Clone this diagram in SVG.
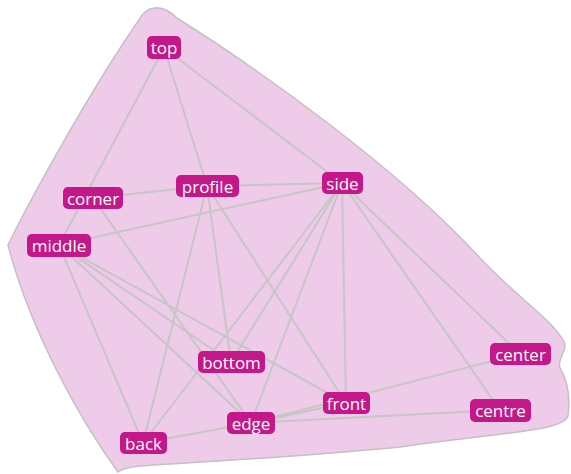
<svg xmlns="http://www.w3.org/2000/svg" width="571" height="474" viewBox="0 0 571 474">
<style>
.bg{fill:#eecbe8;stroke:#c4c0c4;stroke-width:1.5}
.e{stroke:#c6c6c6;stroke-width:2;fill:none}
.n rect{fill:#c4178a}
.n text{fill:#fff;font-family:"Open Sans","DejaVu Sans",sans-serif;font-size:17px;text-anchor:middle;dominant-baseline:central}
</style>
<rect width="571" height="474" fill="#fff"/>
<path class="bg" d="M143,14 Q158,0 177,18 C260,70 400,170 480,258 C520,300 550,318 563,340 C570,350 556,358 560,368 C566,378 571,392 568,416 C562,432 500,432 400,447 C300,457 200,462 140,466 Q122,468 118,472 C80,420 30,330 8,245 C30,200 90,90 143,14 Z"/>
<g id="connectors">
<line class="e" x1="164" y1="48" x2="59" y2="245"/>
<line class="e" x1="164" y1="48" x2="207" y2="186"/>
<line class="e" x1="164" y1="48" x2="342" y2="183"/>
<line class="e" x1="93" y1="198" x2="207" y2="186"/>
<line class="e" x1="93" y1="198" x2="251" y2="423"/>
<line class="e" x1="59" y1="245" x2="342" y2="183"/>
<line class="e" x1="59" y1="245" x2="143" y2="443"/>
<line class="e" x1="59" y1="245" x2="231" y2="362"/>
<line class="e" x1="59" y1="245" x2="251" y2="423"/>
<line class="e" x1="59" y1="245" x2="346" y2="403"/>
<line class="e" x1="207" y1="186" x2="342" y2="183"/>
<line class="e" x1="207" y1="186" x2="143" y2="443"/>
<line class="e" x1="207" y1="186" x2="231" y2="362"/>
<line class="e" x1="207" y1="186" x2="346" y2="403"/>
<line class="e" x1="342" y1="183" x2="231" y2="362"/>
<line class="e" x1="342" y1="183" x2="143" y2="443"/>
<line class="e" x1="342" y1="183" x2="251" y2="423"/>
<line class="e" x1="342" y1="183" x2="346" y2="403"/>
<line class="e" x1="342" y1="183" x2="520" y2="354"/>
<line class="e" x1="342" y1="183" x2="500" y2="410"/>
<line class="e" x1="143" y1="443" x2="251" y2="423"/>
<line class="e" x1="251" y1="423" x2="346" y2="403"/>
<line class="e" x1="251" y1="423" x2="520" y2="354"/>
<line class="e" x1="251" y1="423" x2="500" y2="410"/>
</g>
<g id="top" class="n"><rect x="147" y="36" width="34" height="23" rx="5"/><text x="164" y="47.5">top</text></g>
<g id="corner" class="n"><rect x="63" y="187" width="60" height="22" rx="5"/><text x="93" y="198">corner</text></g>
<g id="middle" class="n"><rect x="27" y="234" width="64" height="23" rx="5"/><text x="59" y="245.5">middle</text></g>
<g id="profile" class="n"><rect x="176" y="175" width="63" height="22" rx="5"/><text x="207.5" y="186">profile</text></g>
<g id="side" class="n"><rect x="322" y="172" width="41" height="22" rx="5"/><text x="342.5" y="183">side</text></g>
<g id="bottom" class="n"><rect x="198" y="351" width="67" height="22" rx="5"/><text x="231.5" y="362">bottom</text></g>
<g id="front" class="n"><rect x="323" y="392" width="47" height="22" rx="5"/><text x="346.5" y="403">front</text></g>
<g id="edge" class="n"><rect x="227" y="412" width="48" height="22" rx="5"/><text x="251" y="423">edge</text></g>
<g id="back" class="n"><rect x="120" y="432" width="47" height="22" rx="5"/><text x="143.5" y="443">back</text></g>
<g id="center" class="n"><rect x="490" y="343" width="61" height="22" rx="5"/><text x="520.5" y="354">center</text></g>
<g id="centre" class="n"><rect x="470" y="399" width="61" height="23" rx="5"/><text x="500.5" y="410.5">centre</text></g>
</svg>
